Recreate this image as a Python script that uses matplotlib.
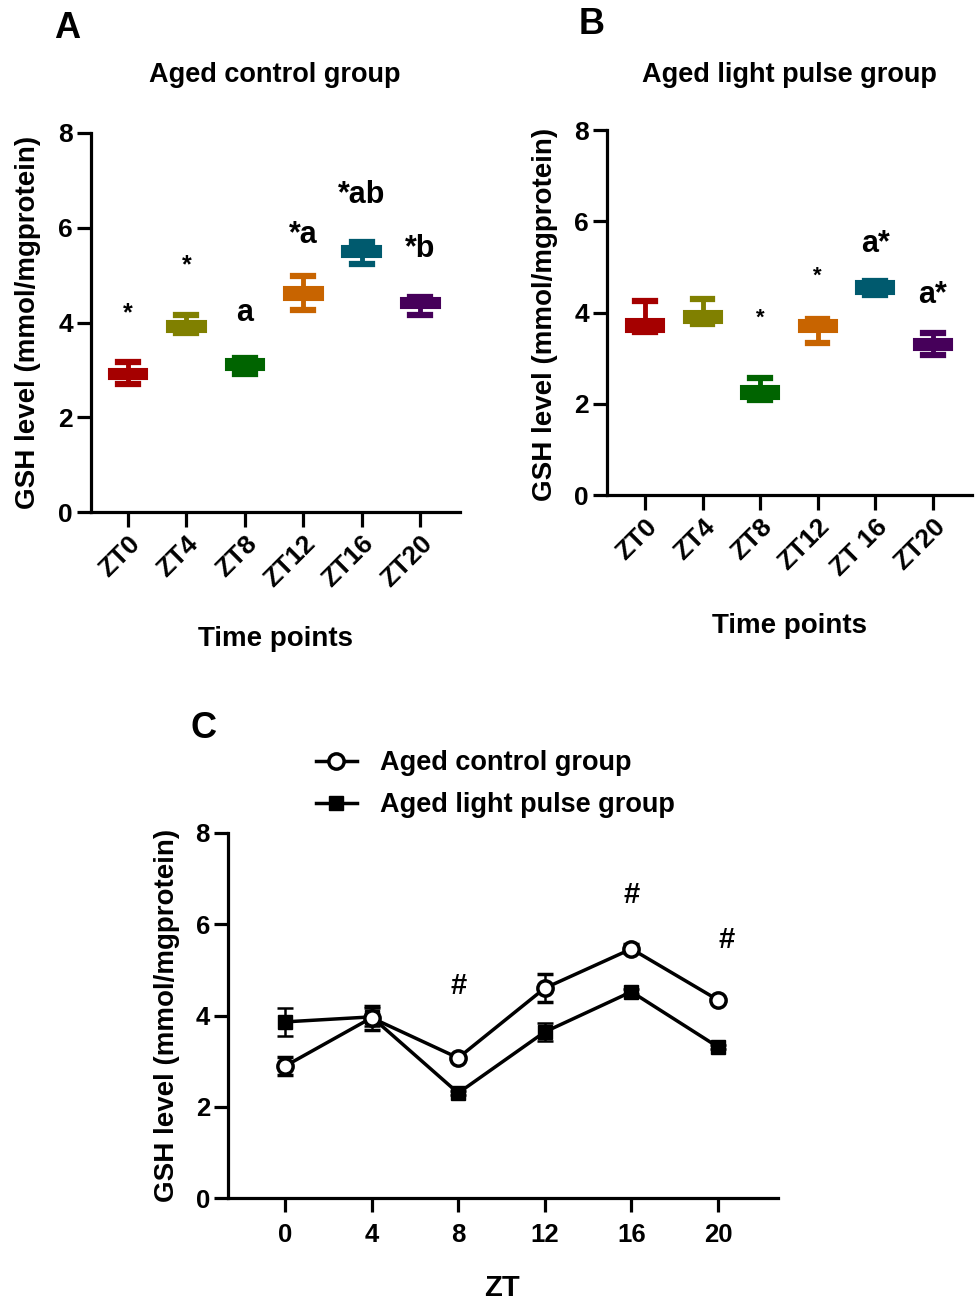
import matplotlib
matplotlib.use("Agg")
import matplotlib.pyplot as plt
from matplotlib.lines import Line2D

plt.rcParams['font.family'] = ['Liberation Sans', 'DejaVu Sans']
plt.rcParams['font.weight'] = 'bold'

W, H = 975, 1301

# ---------------- data ----------------
categories_a = ["ZT0", "ZT4", "ZT8", "ZT12", "ZT16", "ZT20"]
categories_b = ["ZT0", "ZT4", "ZT8", "ZT12", "ZT 16", "ZT20"]
box_colors = ["#A50000", "#808000", "#006400", "#C86400", "#005A6E", "#46005A"]

# box stats (whislo, q1, med, q3, whishi)
ctrl_whislo = [2.70, 3.78, 2.91, 4.26, 5.23, 4.16]
ctrl_q1     = [2.80, 3.80, 3.00, 4.47, 5.38, 4.30]
ctrl_med    = [2.90, 3.92, 3.10, 4.60, 5.50, 4.40]
ctrl_q3     = [3.02, 4.03, 3.23, 4.75, 5.61, 4.52]
ctrl_whishi = [3.16, 4.16, 3.25, 4.98, 5.70, 4.54]
ctrl_marks  = ["*", "*", "a", "*a", "*ab", "*b"]
ctrl_mark_y = [4.2, 5.2, 4.2, 5.85, 6.7, 5.55]

lp_whislo = [3.57, 3.75, 2.08, 3.33, 4.39, 3.07]
lp_q1     = [3.58, 3.77, 2.10, 3.57, 4.40, 3.18]
lp_med    = [3.75, 3.90, 2.25, 3.70, 4.52, 3.30]
lp_q3     = [3.86, 4.04, 2.39, 3.84, 4.69, 3.42]
lp_whishi = [4.25, 4.30, 2.57, 3.86, 4.69, 3.55]
lp_marks  = ["", "", "*", "*", "a*", "a*"]
lp_mark_y = [0, 0, 3.88, 4.8, 5.5, 4.38]

zt = [0, 4, 8, 12, 16, 20]
ctrl_mean = [2.89, 3.95, 3.07, 4.60, 5.46, 4.34]
ctrl_err  = [0.19, 0.26, 0.05, 0.30, 0.10, 0.05]
lp_mean   = [3.86, 3.97, 2.30, 3.64, 4.52, 3.31]
lp_err    = [0.31, 0.20, 0.05, 0.20, 0.05, 0.05]
hash_x = [8, 16, 20.4]
hash_y = [4.65, 6.65, 5.65]

yticks = [0, 2, 4, 6, 8]

# ---------------- helpers ----------------
fig = plt.figure(figsize=(W / 100, H / 100), dpi=100)


def add_ax(left, top, right, bottom):
    return fig.add_axes([left / W, 1 - bottom / H, (right - left) / W, (bottom - top) / H])


def ftext(x, y, s, **kw):
    fig.text(x / W, 1 - y / H, s, **kw)


def style_ax(ax, labelsize=19):
    for s in ["top", "right"]:
        ax.spines[s].set_visible(False)
    for s in ["left", "bottom"]:
        ax.spines[s].set_linewidth(2.3)
    ax.tick_params(width=2.3, length=10, labelsize=labelsize, pad=3)
    for lab in ax.get_xticklabels() + ax.get_yticklabels():
        lab.set_fontweight('bold')


def box_panel(ax, whislo, q1, med, q3, whishi, labels, marks, mark_y, mark_sizes):
    stats = []
    for i in range(len(labels)):
        stats.append(dict(whislo=whislo[i], q1=q1[i], med=med[i], q3=q3[i],
                          whishi=whishi[i], fliers=[]))
    bp = ax.bxp(stats, positions=list(range(len(labels))), widths=0.66,
                patch_artist=True, showfliers=False)
    for i, c in enumerate(box_colors):
        bp['boxes'][i].set(facecolor=c, edgecolor=c, linewidth=1.5)
        bp['medians'][i].set(color=c, linewidth=1.5)
        for w in bp['whiskers'][2 * i:2 * i + 2]:
            w.set(color=c, linewidth=3.5)
        for cap in bp['caps'][2 * i:2 * i + 2]:
            cap.set(color=c, linewidth=4.5, xdata=[i - 0.17, i + 0.17])
    ax.set_ylim(0, 8)
    ax.set_yticks(yticks)
    ax.set_xticks(range(len(labels)))
    ax.set_xticklabels(labels, rotation=45, ha='right', rotation_mode='anchor')
    for i, m in enumerate(marks):
        if m:
            ax.text(i, mark_y[i], m, ha='center', va='center',
                    fontsize=mark_sizes[i], fontweight='bold')
    style_ax(ax)


# ---------------- Panel A ----------------
axA = add_ax(91, 133, 460, 512)
box_panel(axA, ctrl_whislo, ctrl_q1, ctrl_med, ctrl_q3, ctrl_whishi,
          categories_a, ctrl_marks, ctrl_mark_y, [18, 18, 22, 22, 22, 22])
axA.set_xlim(-0.63, 5.68)
axA.tick_params(axis='x', length=11)

ftext(67, 29, "A", fontsize=26, fontweight='bold', ha='center', va='center')
ftext(275, 75, "Aged control group", fontsize=19.5, fontweight='bold', ha='center', va='center')
ftext(28, 322, "GSH level (mmol/mgprotein)", fontsize=20, fontweight='bold',
      rotation=90, ha='center', va='center')
ftext(276, 639, "Time points", fontsize=20, fontweight='bold', ha='center', va='center')

# ---------------- Panel B ----------------
axB = add_ax(607, 130, 972, 495)
box_panel(axB, lp_whislo, lp_q1, lp_med, lp_q3, lp_whishi,
          categories_b, lp_marks, lp_mark_y, [16, 16, 16, 16, 22, 22])
axB.set_xlim(-0.66, 5.68)
axB.tick_params(axis='x', length=11)

ftext(592, 24, "B", fontsize=26, fontweight='bold', ha='center', va='center')
ftext(789, 75, "Aged light pulse group", fontsize=19.5, fontweight='bold', ha='center', va='center')
ftext(545, 314, "GSH level (mmol/mgprotein)", fontsize=20, fontweight='bold',
      rotation=90, ha='center', va='center')
ftext(790, 626, "Time points", fontsize=20, fontweight='bold', ha='center', va='center')

# ---------------- Panel C ----------------
axC = add_ax(228, 833, 778, 1198)
axC.errorbar(zt, lp_mean, yerr=lp_err, color='black', marker='s', markersize=10,
             markerfacecolor='black', linewidth=2.5, capsize=6, capthick=1.8,
             elinewidth=1.8, zorder=3)
axC.errorbar(zt, ctrl_mean, yerr=ctrl_err, color='black', marker='o', markersize=11,
             markerfacecolor='white', markeredgewidth=2.5, linewidth=2.5, capsize=6,
             capthick=1.8, elinewidth=1.8, zorder=4)
for x, y in zip(hash_x, hash_y):
    axC.text(x, y, "#", ha='center', va='center', fontsize=21, fontweight='bold')
axC.set_xlim(-2.63, 22.77)
axC.set_ylim(0, 8)
axC.set_xticks(zt)
axC.set_yticks(yticks)
style_ax(axC, labelsize=18.5)
axC.tick_params(axis='x', pad=8)

ftext(203, 729, "C", fontsize=26, fontweight='bold', ha='center', va='center')
ftext(167, 1015, "GSH level (mmol/mgprotein)", fontsize=20, fontweight='bold',
      rotation=90, ha='center', va='center')
ftext(502, 1288, "ZT", fontsize=21, fontweight='bold', ha='center', va='center')

handles = [
    Line2D([], [], color='black', marker='o', markersize=11, markerfacecolor='white',
           markeredgewidth=2.5, linewidth=2.5),
    Line2D([], [], color='black', marker='s', markersize=10, markerfacecolor='black',
           linewidth=2.5),
]
fig.legend(handles, ["Aged control group", "Aged light pulse group"],
           loc='upper left', bbox_to_anchor=(316 / W, 1 - 750 / H), frameon=False,
           prop={'size': 19.5, 'weight': 'bold'}, handlelength=1.5, handletextpad=0.85,
           labelspacing=0.6, borderpad=0, borderaxespad=0)

fig.savefig("out.png", dpi=100)
